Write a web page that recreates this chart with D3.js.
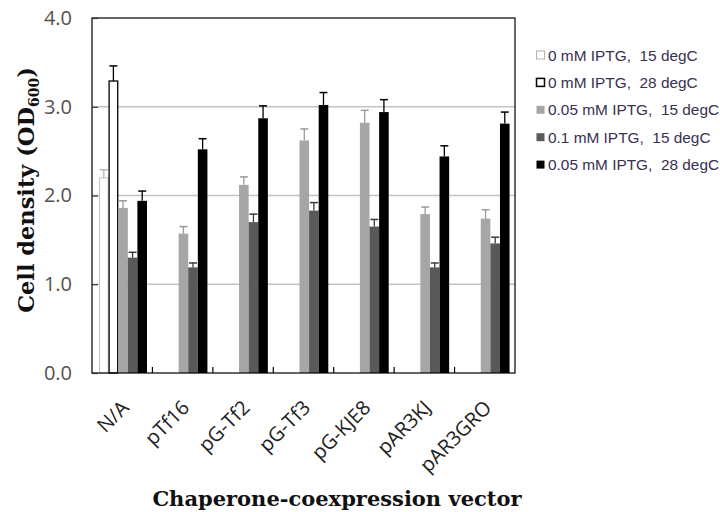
<!DOCTYPE html>
<html><head><meta charset="utf-8">
<script src="https://cdn.jsdelivr.net/npm/d3@7"></script>
<style>html,body{margin:0;padding:0;background:#fff}svg{display:block}</style>
</head><body><svg id="c" width="720" height="512"></svg>
<script>
const categories = ["N/A","pTf16","pG-Tf2","pG-Tf3","pG-KJE8","pAR3KJ","pAR3GRO"];
const seriesNames = ["0 mM IPTG,  15 degC","0 mM IPTG,  28 degC","0.05 mM IPTG,  15 degC","0.1 mM IPTG,  15 degC","0.05 mM IPTG,  28 degC"];
const s0mM15 = [2.20, null, null, null, null, null, null];
const s0mM28 = [3.29, null, null, null, null, null, null];
const s005mM15 = [1.86, 1.57, 2.12, 2.62, 2.82, 1.79, 1.74];
const s01mM15 = [1.30, 1.19, 1.70, 1.83, 1.65, 1.19, 1.46];
const s005mM28 = [1.94, 2.52, 2.87, 3.02, 2.94, 2.44, 2.81];
const e0mM15 = [0.09, null, null, null, null, null, null];
const e0mM28 = [0.17, null, null, null, null, null, null];
const e005mM15 = [0.08, 0.08, 0.09, 0.13, 0.14, 0.08, 0.10];
const e01mM15 = [0.06, 0.05, 0.09, 0.09, 0.08, 0.05, 0.07];
const e005mM28 = [0.11, 0.12, 0.14, 0.14, 0.14, 0.12, 0.13];
const yTicks = [0, 1, 2, 3, 4];

const values = [s0mM15, s0mM28, s005mM15, s01mM15, s005mM28];
const errors = [e0mM15, e0mM28, e005mM15, e01mM15, e005mM28];
const fills = ["#ffffff", "#ffffff", "#a6a6a6", "#595959", "#000000"];
const strokes = ["#c4c4c4", "#000000", "none", "none", "none"];
const errColors = ["#b8b8b8", "#000000", "#9a9a9a", "#3a3a3a", "#000000"];

const svg = d3.select("#c");
const L = 92, R = 515, T = 18, B = 373;
const x = d3.scaleBand().domain(categories).range([L, R]).paddingInner(0).paddingOuter(0);
const xi = d3.scaleBand().domain(d3.range(seriesNames.length)).range([7, 55]).padding(0);
const y = d3.scaleLinear().domain([0, 4]).range([B, T]);

// gridlines
svg.append("g").selectAll("line").data(yTicks.filter(t => t > 0 && t < 4)).join("line")
  .attr("x1", L).attr("x2", R).attr("y1", d => y(d)).attr("y2", d => y(d))
  .attr("stroke", "#c3c3c3").attr("stroke-width", 1.5);

// bars
const rows = [];
categories.forEach((c, ci) => values.forEach((vals, si) => {
  if (vals[ci] != null) rows.push({c, si, v: vals[ci], e: errors[si][ci]});
}));
const g = svg.append("g");
g.selectAll("rect").data(rows).join("rect")
  .attr("x", d => x(d.c) + xi(d.si) + (strokes[d.si] !== "none" ? 0.5 : 0))
  .attr("y", d => y(d.v))
  .attr("width", d => xi.bandwidth() - (strokes[d.si] !== "none" ? 1 : 0))
  .attr("height", d => y(0) - y(d.v))
  .attr("fill", d => fills[d.si])
  .attr("stroke", d => strokes[d.si])
  .attr("stroke-width", d => d.si === 1 ? 1.3 : 1);

// error bars
const eg = svg.append("g");
rows.forEach(d => {
  const cx = x(d.c) + xi(d.si) + xi.bandwidth() / 2;
  const col = errColors[d.si];
  eg.append("line").attr("x1", cx).attr("x2", cx).attr("y1", y(d.v)).attr("y2", y(d.v + d.e))
    .attr("stroke", col).attr("stroke-width", 1.3);
  eg.append("line").attr("x1", cx - 4).attr("x2", cx + 4).attr("y1", y(d.v + d.e)).attr("y2", y(d.v + d.e))
    .attr("stroke", col).attr("stroke-width", 1.5);
});

// frame
svg.append("rect").attr("x", L).attr("y", T).attr("width", R - L).attr("height", B - T)
  .attr("fill", "none").attr("stroke", "#000").attr("stroke-width", 1.2);

// y axis (inward ticks)
const yAxis = svg.append("g").attr("transform", `translate(${L},0)`)
  .call(d3.axisLeft(y).tickValues(yTicks).tickFormat(d3.format(".1f")).tickSize(-6).tickPadding(20));
yAxis.select(".domain").remove();
yAxis.selectAll(".tick line").attr("stroke", "#333").attr("stroke-width", 1.2);
yAxis.selectAll("text").attr("font-family", "'Open Sans', sans-serif").attr("font-size", 20).attr("fill", "#57504a");

// x boundary ticks (inward)
svg.append("g").selectAll("line").data(categories.slice(0, -1)).join("line")
  .attr("x1", d => x(d) + x.bandwidth()).attr("x2", d => x(d) + x.bandwidth())
  .attr("y1", B).attr("y2", B - 6).attr("stroke", "#000").attr("stroke-width", 1.2);

// x axis labels
const xAxis = svg.append("g").attr("transform", `translate(0,${B})`)
  .call(d3.axisBottom(x).tickSize(0).tickPadding(0));
xAxis.select(".domain").remove();
xAxis.selectAll("text")
  .attr("font-family", "'Open Sans', sans-serif").attr("font-size", 20).attr("fill", "#222")
  .attr("text-anchor", "end").attr("dy", null).attr("y", 0)
  .attr("transform", "translate(8,36) rotate(-45)");

// axis titles
svg.append("text").attr("x", 337).attr("y", 506).attr("text-anchor", "middle")
  .attr("font-family", "'DejaVu Serif', serif").attr("font-weight", "bold").attr("font-size", 21)
  .attr("fill", "#111").text("Chaperone-coexpression vector");
const yt = svg.append("text").attr("transform", "translate(34,190) rotate(-90)").attr("text-anchor", "middle")
  .attr("font-family", "'DejaVu Serif', serif").attr("font-weight", "bold").attr("font-size", 22.5).attr("fill", "#111");
yt.append("tspan").text("Cell density (OD");
yt.append("tspan").attr("font-size", 14).attr("dy", 5).text("600");
yt.append("tspan").attr("dy", -5).text(")");

// legend
const lg = svg.append("g").attr("transform", "translate(536,55)");
const li = lg.selectAll("g").data(seriesNames).join("g").attr("transform", (d, i) => `translate(0,${i * 27.4})`);
li.append("rect").attr("x", 0.5).attr("y", -4).attr("width", 8).attr("height", 8)
  .attr("fill", (d, i) => fills[i])
  .attr("stroke", (d, i) => i === 0 ? "#b0b0b0" : (i === 1 ? "#000" : "none"))
  .attr("stroke-width", (d, i) => i === 1 ? 1.5 : 1);
li.append("text").attr("x", 12).attr("y", 0).attr("dy", "0.36em")
  .attr("font-family", "'Liberation Sans', Arial, sans-serif").attr("font-size", 15.4)
  .attr("fill", "#3a3050").style("white-space", "pre").text(d => d);
</script></body></html>
